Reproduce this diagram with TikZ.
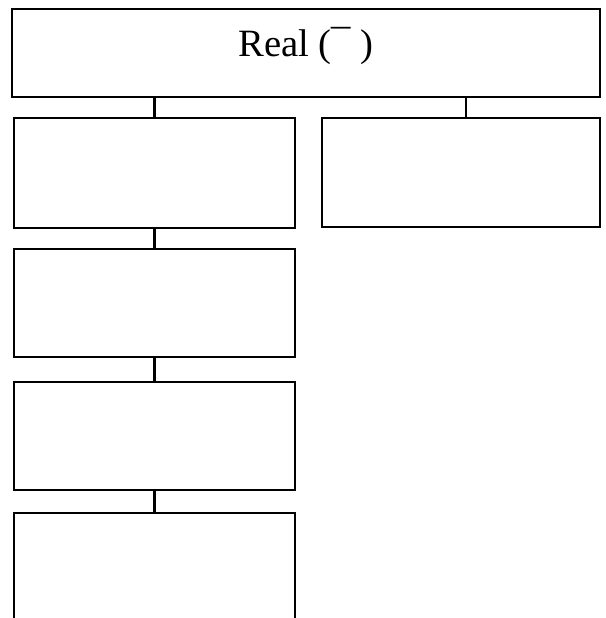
\documentclass[tikz,border=0pt]{standalone}
\usepackage{fontspec}
\setmainfont{Liberation Serif}
\usetikzlibrary{positioning}

\begin{document}
\begin{tikzpicture}[x=0.03cm, y=-0.03cm, every node/.style={font=\fontsize{33}{38}\selectfont}]
	\tikzset{box/.style={draw, rectangle, line width=1.8pt, fill=white, inner sep=0pt}}
	\clip (0,0) rectangle (605,618);
	\fill[white] (0,0) rectangle (605,618);
	\node[box, minimum width=17.64cm, minimum height=2.64cm, text depth=0.65cm] (real) at (306,53) {Real (¯ )};
	\node[box, minimum width=8.43cm, minimum height=3.3cm] (left1) at (154.5,173) {};
	\node[box, minimum width=8.34cm, minimum height=3.27cm] (right1) at (461,172.5) {};
	\node[box, minimum width=8.43cm, minimum height=3.24cm] (left2) at (154.5,303) {};
	\node[box, minimum width=8.43cm, minimum height=3.24cm] (left3) at (154.5,436) {};
	\node[box, minimum width=8.43cm, minimum height=3.9cm] (left4) at (154.5,578) {};
	\draw[line width=1.8pt] (real.south -| left1.north) -- (left1.north);
	\draw[line width=1.8pt] ([xshift=0.15cm]real.south -| right1.north) -- ([xshift=0.15cm]right1.north);
	\draw[line width=1.8pt] (left1) -- (left2);
	\draw[line width=1.8pt] (left2) -- (left3);
	\draw[line width=1.8pt] (left3) -- (left4);
\end{tikzpicture}
\end{document}
